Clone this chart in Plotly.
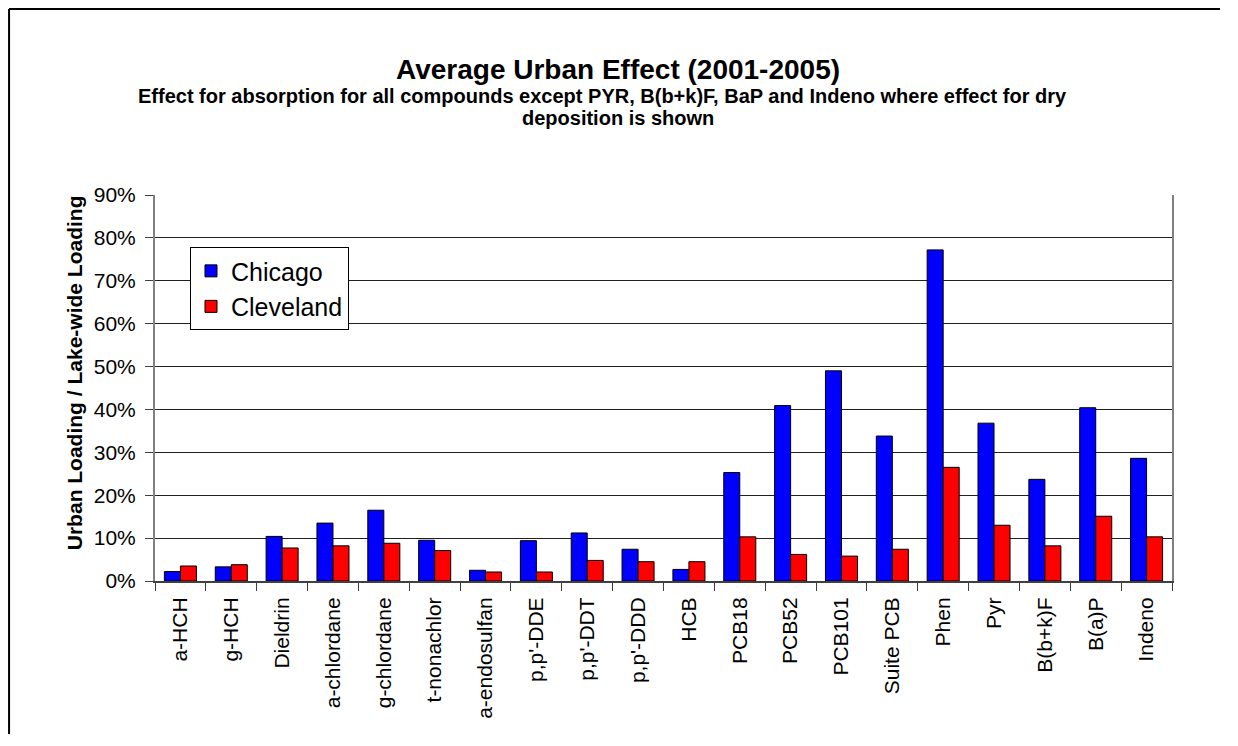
import plotly.graph_objects as go

compounds = ["a-HCH", "g-HCH", "Dieldrin", "a-chlordane", "g-chlordane", "t-nonachlor",
             "a-endosulfan", "p,p'-DDE", "p,p'-DDT", "p,p'-DDD", "HCB", "PCB18", "PCB52",
             "PCB101", "Suite PCB", "Phen", "Pyr", "B(b+k)F", "B(a)P", "Indeno"]

# urban loading / lake-wide loading (fractions)
chicago = [0.022, 0.033, 0.104, 0.135, 0.165, 0.095, 0.025, 0.094, 0.112, 0.074,
           0.027, 0.253, 0.409, 0.490, 0.338, 0.772, 0.368, 0.237, 0.404, 0.286]
cleveland = [0.035, 0.038, 0.077, 0.082, 0.088, 0.071, 0.021, 0.021, 0.048, 0.045,
             0.045, 0.103, 0.062, 0.058, 0.074, 0.265, 0.130, 0.082, 0.151, 0.103]

y_ticks = [0.0, 0.1, 0.2, 0.3, 0.4, 0.5, 0.6, 0.7, 0.8, 0.9]
y_ticktext = ["0%", "10%", "20%", "30%", "40%", "50%", "60%", "70%", "80%", "90%"]

font = "Liberation Sans, Arial, sans-serif"

fig = go.Figure()
fig.add_trace(go.Bar(x=compounds, y=chicago, name="Chicago",
                     marker=dict(color="#0000FF", line=dict(color="black", width=1))))
fig.add_trace(go.Bar(x=compounds, y=cleveland, name="Cleveland",
                     marker=dict(color="#FF0000", line=dict(color="black", width=1))))

# page has an 8px body margin, so the figure is a bit smaller than the window
fig.update_layout(
    width=1212, height=726,
    margin=dict(l=147, r=48, t=187, b=153),
    paper_bgcolor="white", plot_bgcolor="white",
    font=dict(family=font, color="black", size=21),
    barmode="group", bargap=0.37, bargroupgap=0,
    showlegend=True,
    legend=dict(x=0.0344, y=0.865, xanchor="left", yanchor="top",
                bordercolor="black", borderwidth=1, bgcolor="white",
                font=dict(size=25), tracegroupgap=0),
    xaxis=dict(type="category", tickangle=-90, ticks="outside", tickson="boundaries",
               ticklen=8, tickcolor="#404040", showline=True, linecolor="#404040",
               linewidth=2, showgrid=False, tickfont=dict(size=21),
               ticklabelstandoff=6),
    yaxis=dict(range=[0, 0.9], tickvals=y_ticks, ticktext=y_ticktext,
               ticks="outside", ticklen=8, tickcolor="#404040",
               showline=True, linecolor="#808080", linewidth=2, mirror=True,
               showgrid=True, gridcolor="#202020", gridwidth=1,
               tickfont=dict(size=21), zeroline=False, ticklabelstandoff=5),
    annotations=[
        dict(text="<b>Average Urban Effect (2001-2005)</b>", xref="paper", yref="paper",
             x=0.455, y=1.326, xanchor="center", yanchor="middle", showarrow=False,
             font=dict(size=28)),
        dict(text="<b>Effect for absorption for all compounds except PYR, B(b+k)F, BaP and Indeno where effect for dry</b>",
             xref="paper", yref="paper", x=0.44, y=1.257, xanchor="center", yanchor="middle",
             showarrow=False, font=dict(size=20)),
        dict(text="<b>deposition is shown</b>", xref="paper", yref="paper",
             x=0.455, y=1.200, xanchor="center", yanchor="middle", showarrow=False,
             font=dict(size=20)),
        dict(text="<b>Urban Loading / Lake-wide Loading</b>", xref="paper", yref="paper",
             x=-0.079, y=0.54, xanchor="center", yanchor="middle", textangle=-90,
             showarrow=False, font=dict(size=21)),
    ],
    # chart-area frame: only the left and top edges fall inside the picture
    shapes=[
        dict(type="line", xref="paper", yref="paper", x0=-0.1435, x1=-0.1435,
             y0=-0.6, y1=1.4819, line=dict(color="black", width=2), layer="below"),
        dict(type="line", xref="paper", yref="paper", x0=-0.1435, x1=1.2,
             y0=1.4819, y1=1.4819, line=dict(color="black", width=2), layer="below"),
    ],
)

fig.write_html("out.html")
